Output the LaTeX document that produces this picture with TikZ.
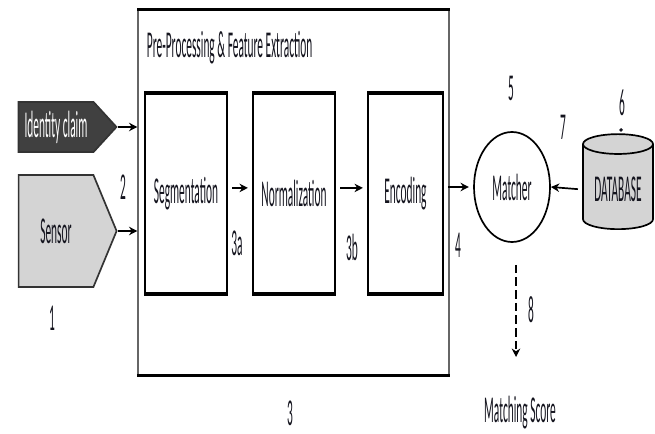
\documentclass[tikz,border=0pt]{standalone}
\usepackage{fontspec}
\setmainfont{Carlito}[FakeStretch=0.3]
\usepackage{tikz}
\usetikzlibrary{shapes.geometric, shapes.symbols, positioning, arrows.meta}
\definecolor{ClaimGray}{RGB}{64,64,64}
\definecolor{SensorGray}{RGB}{212,212,212}
\definecolor{InkBlack}{RGB}{20,20,30}

\begin{document}
\begin{tikzpicture}[
          font=\fontsize{27}{29}\selectfont, text=InkBlack,
          stagebox/.style={rectangle, draw, line width=1.2pt, minimum width=2.05cm,
                      minimum height=4.975cm, inner sep=0pt},
          source/.style={signal, signal to=east, draw=black!80, line width=1.2pt,
                      minimum width=2.45cm, inner sep=0pt},
          arr/.style={-{Stealth[length=6pt, width=6pt]}, line width=1.2pt}
        ]
        \useasboundingbox (0,0) rectangle (16.375,10.825);

        % sources
        \node[source, fill=ClaimGray, text=white, minimum height=1.25cm,
              signal pointer angle=95] (claim) at (1.4,7.65) {Identity claim};
        \node[source, fill=SensorGray, minimum height=2.8cm,
              signal pointer angle=135] (sensor) at (1.4,5.05) {Sensor};
        \node (n1) at (1.3,2.875) {1};
        \node (n2) at (3.075,6.15) {2};

        % pre-processing block
        \node[rectangle, draw=black!60, line width=0.8pt, minimum width=7.775cm,
              minimum height=9.125cm] (pre) at (7.3375,6.0125) {};
        \draw[line width=2.5pt] (pre.north west) -- (pre.north east)
                                (pre.south west) -- (pre.south east);
        \node[anchor=west] (title) at (3.55,9.625) {Pre-Processing \& Feature Extraction};
        \node (n3) at (7.25,0.5) {3};

        \node[stagebox] (seg)  at (4.65,5.9875)  {Segmentation};
        \node[stagebox] (norm) at (7.35,5.9875)  {Normalization};
        \node[stagebox, minimum width=1.875cm] (enc) at (10.1375,5.9875) {Encoding};
        \foreach \n in {seg,norm,enc}
          \draw[line width=3pt] (\n.north west) -- (\n.north east)
                                (\n.south west) -- (\n.south east);
        \node (n3a) at (5.925,4.75) {3a};
        \node (n3b) at (8.8,4.65) {3b};
        \node (n4) at (11.45,4.7) {4};

        % matching
        \node[ellipse, draw, line width=1.2pt, minimum width=1.9cm,
              minimum height=2.75cm] (matcher) at (12.8,6.15) {Matcher};
        \node (n5) at (12.775,8.625) {5};
        \node[cylinder, shape border rotate=90, aspect=0.35, draw, line width=1.2pt,
              fill=SensorGray, minimum width=1.75cm, minimum height=2.375cm]
              (db) at (15.45,6.0875) {DATABASE};
        \node (n6) at (15.55,8.25) {6};
        \node[circle, fill=InkBlack, inner sep=1pt] (dot6) at (15.525,7.575) {};
        \node (n7) at (14.075,7.65) {7};
        \node (score) at (13.0,0.5) {Matching Score};
        \coordinate (scoretip) at (12.9,1.9);
        \node (n8) at (13.275,3.075) {8};

        % arrows
        \draw[arr] (claim.east) -- (claim.east -| pre.west);
        \draw[arr] (sensor.east) -- (sensor.east -| pre.west);
        \draw[arr, shorten <=3pt, shorten >=3pt] ([yshift=0.14cm]seg.east) -- ([yshift=0.14cm]norm.west);
        \draw[arr, shorten <=3pt, shorten >=3pt] ([yshift=0.14cm]norm.east) -- ([yshift=0.14cm]enc.west);
        \draw[arr, shorten <=3pt, shorten >=3pt] (enc.east |- matcher.west) -- (matcher.west);
        \draw[arr, shorten <=3pt] (db.west) -- (matcher.east);
        \draw[arr, line width=0.8pt, dash pattern=on 6pt off 3pt]
              ([yshift=-0.55cm]matcher.south -| scoretip) -- (scoretip);
      \end{tikzpicture}
\end{document}
